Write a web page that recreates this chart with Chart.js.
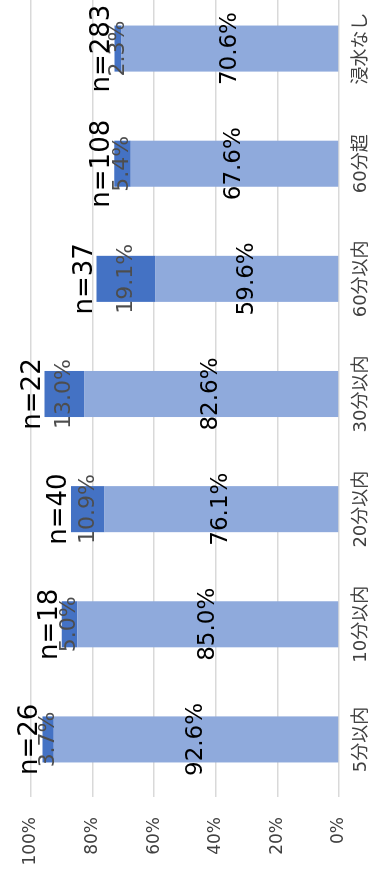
<!DOCTYPE html>
<html lang="ja">
<head>
<meta charset="UTF-8">
<title>浸水までの時間別 割合</title>
<style>
  html, body { margin: 0; padding: 0; background: #fff; overflow: hidden; }
  body { width: 371px; height: 873px; position: relative; }
  /* chart is laid out sideways and turned so the text reads bottom to top */
  .wrap {
    position: absolute; left: 0; top: 0;
    width: 890px; height: 371px;
    transform-origin: 0 0;
    transform: translateY(873px) rotate(-90deg);
  }
</style>
</head>
<body>
<div class="wrap"><canvas id="chart"></canvas></div>
<script src="https://cdn.jsdelivr.net/npm/chart.js@4"></script>
<script>
const labels = ['5分以内', '10分以内', '20分以内', '30分以内', '60分以内', '60分超', '浸水なし'];
const lightValues = [92.6, 85.0, 76.1, 82.6, 59.6, 67.6, 70.6];
const darkValues = [3.7, 5.0, 10.9, 13.0, 19.1, 5.4, 2.3];
const counts = [26, 18, 40, 22, 37, 108, 283];

const FONT = '"DejaVu Sans", "Noto Sans CJK JP", sans-serif';

// value labels in each segment and n= above each bar
const barLabels = {
  id: 'barLabels',
  afterDatasetsDraw(chart) {
    const ctx = chart.ctx;
    const styles = [
      { font: '23px ' + FONT, color: '#000000' },
      { font: '22px ' + FONT, color: '#4d4d4d' }
    ];
    ctx.save();
    ctx.textAlign = 'center';
    ctx.textBaseline = 'middle';
    chart.data.datasets.forEach((ds, i) => {
      ctx.font = styles[i].font;
      ctx.fillStyle = styles[i].color;
      chart.getDatasetMeta(i).data.forEach((bar, j) => {
        ctx.fillText(ds.data[j].toFixed(1) + '%', bar.x, (bar.y + bar.base) / 2);
      });
    });
    ctx.font = '26px ' + FONT;
    ctx.fillStyle = '#000000';
    ctx.textBaseline = 'alphabetic';
    chart.getDatasetMeta(1).data.forEach((bar, j) => {
      ctx.fillText('n=' + counts[j], bar.x, bar.y - 5);
    });
    ctx.restore();
  }
};

new Chart(document.getElementById('chart'), {
  type: 'bar',
  data: {
    labels: labels,
    datasets: [
      { data: lightValues, backgroundColor: '#8faadc', barPercentage: 0.4, categoryPercentage: 1 },
      { data: darkValues, backgroundColor: '#4472c4', barPercentage: 0.4, categoryPercentage: 1 }
    ]
  },
  options: {
    responsive: true,
    maintainAspectRatio: false,
    animation: false,
    layout: { padding: { top: 31, right: 8, left: 0, bottom: 0 } },
    plugins: { legend: { display: false }, tooltip: { enabled: false } },
    scales: {
      x: {
        stacked: true,
        grid: { display: false },
        border: { display: false },
        ticks: { color: '#404040', font: { size: 18, family: FONT }, padding: 4, maxRotation: 0, autoSkip: false },
        afterFit(s) { s.height = 32; }
      },
      y: {
        stacked: true,
        min: 0,
        max: 100,
        ticks: { stepSize: 20, callback: v => v + '%', padding: 20, color: '#404040', font: { size: 17, family: FONT } },
        grid: { color: '#d9d9d9', lineWidth: 1.5, drawTicks: false },
        border: { display: false },
        afterFit(s) { s.width = 76; }
      }
    }
  },
  plugins: [barLabels]
});
</script>
</body>
</html>
